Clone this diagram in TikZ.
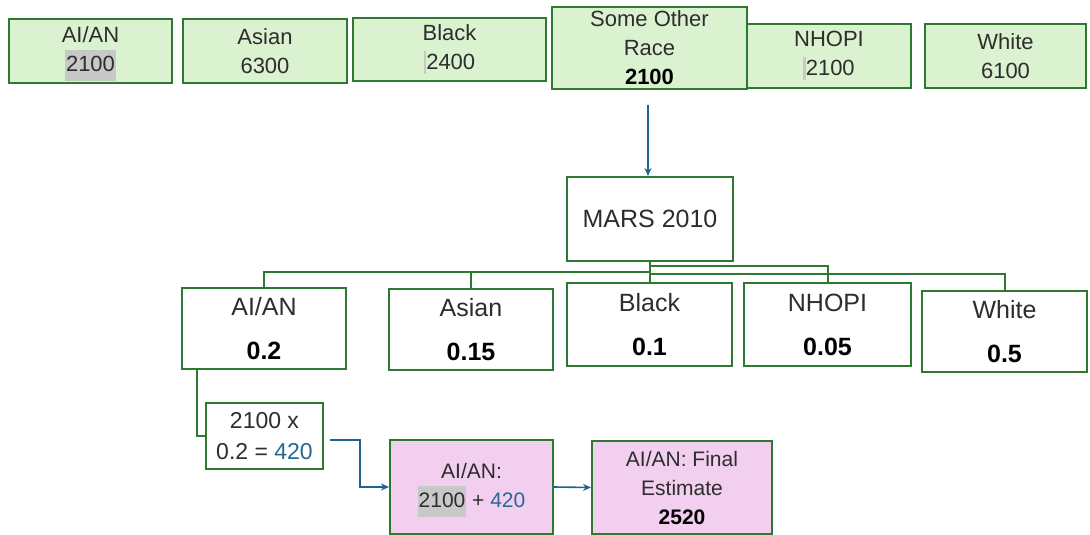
\documentclass[tikz,border=0pt]{standalone}
\usepackage{fontspec}
\setmainfont{Liberation Sans}
\usetikzlibrary{arrows.meta}
\definecolor{bgreen}{RGB}{46,120,50}
\definecolor{lgreen}{RGB}{218,242,208}
\definecolor{lpink}{RGB}{242,206,239}
\definecolor{bblue}{RGB}{30,100,145}
\definecolor{numblue}{RGB}{38,104,150}
\definecolor{txt}{RGB}{45,45,45}
\definecolor{hl}{RGB}{200,200,200}
\newcommand{\hlnum}[1]{\raisebox{0pt}[0.72em][0.2em]{\setlength{\fboxsep}{1pt}\colorbox{hl}{\strut #1}}}
\newcommand{\cursorbar}{{\color{hl}\rule[-0.2em]{2.5pt}{1.05em}}}
\tikzset{
  boxbase/.style={draw=bgreen, line width=2pt, align=center, inner sep=0pt, text=txt},
  gbox/.style={boxbase, fill=lgreen, font=\fontsize{22}{29}\selectfont},
  wbox/.style={boxbase, fill=white, font=\fontsize{25}{44}\selectfont},
  cbox/.style={boxbase, fill=white, font=\fontsize{23}{31}\selectfont},
  pbox/.style={boxbase, fill=lpink, font=\fontsize{21}{29}\selectfont},
  tree/.style={draw=bgreen, line width=2pt},
  flow/.style={draw=bblue, line width=1.6pt, -{Stealth[length=8pt,width=7pt]}}
}
\begin{document}
\begin{tikzpicture}[x=1pt,y=-1pt]
\useasboundingbox (0,0) rectangle (1090,535);
% top row
\node[gbox, minimum width=163, minimum height=64] (tAIAN) at (90.5,51) {AI/AN\\\hlnum{2100}};
\node[gbox, minimum width=164, minimum height=64] (tAsian) at (265,51) {Asian\\6300};
\node[gbox, minimum width=193, minimum height=63] (tBlack) at (449.5,49.5) {Black\\\cursorbar2400};
\node[gbox, minimum width=164, minimum height=64] (tNHOPI) at (829,56) {NHOPI\\\cursorbar2100};
\node[gbox, minimum width=195, minimum height=82] (tSOR) at (649.5,48) {Some Other\\Race\\{\color{black}\bfseries 2100}};
\node[gbox, minimum width=161, minimum height=64] (tWhite) at (1005.5,56) {White\\6100};
% MARS
\node[wbox, minimum width=166, minimum height=84] (mars) at (650,219) {MARS 2010};
\coordinate (arrstart) at (648,105);
\draw[flow] (arrstart) -- (arrstart |- mars.north);
% children
\node[wbox, minimum width=164, minimum height=81] (cAIAN) at (264,328.5) {AI/AN\\{\color{black}\bfseries 0.2}};
\node[wbox, minimum width=164, minimum height=81] (cAsian) at (471,329.5) {Asian\\{\color{black}\bfseries 0.15}};
\node[wbox, minimum width=165, minimum height=83] (cBlack) at (649.5,324.5) {Black\\{\color{black}\bfseries 0.1}};
\node[wbox, minimum width=167, minimum height=83] (cNHOPI) at (827.5,324.5) {NHOPI\\{\color{black}\bfseries 0.05}};
\node[wbox, minimum width=165, minimum height=81] (cWhite) at (1004.5,331.5) {White\\{\color{black}\bfseries 0.5}};
% tree connectors
\draw[tree] (mars.south) -- ++(0,10) -| (cAIAN.north);
\draw[tree] (mars.south) -- ++(0,10) -| (cAsian.north);
\draw[tree] (mars.south) -- (mars.south |- cBlack.north);
\draw[tree] (mars.south) -- ++(0,4) -| (cNHOPI.north);
\draw[tree] (mars.south) -- ++(0,12) -| (cWhite.north);
% calculation
\node[cbox, minimum width=117, minimum height=66] (calc) at (264.5,436) {2100 x\\0.2 = {\color{numblue}420}};
\draw[tree] ([xshift=16pt]cAIAN.south west) |- (calc.west);
\node[pbox, minimum width=163, minimum height=94] (pink1) at (471.5,487) {AI/AN:\\\hlnum{2100} + {\color{numblue}420}};
\node[pbox, minimum width=180, minimum height=93] (pink2) at (682,487.5) {AI/AN: Final\\Estimate\\{\color{black}\bfseries 2520}};
\coordinate (bstart) at (330,440);
\draw[flow] (bstart) -- ++(30,0) |- (pink1.west);
\draw[flow] (pink1.east) -- (pink2.west);
\end{tikzpicture}
\end{document}
